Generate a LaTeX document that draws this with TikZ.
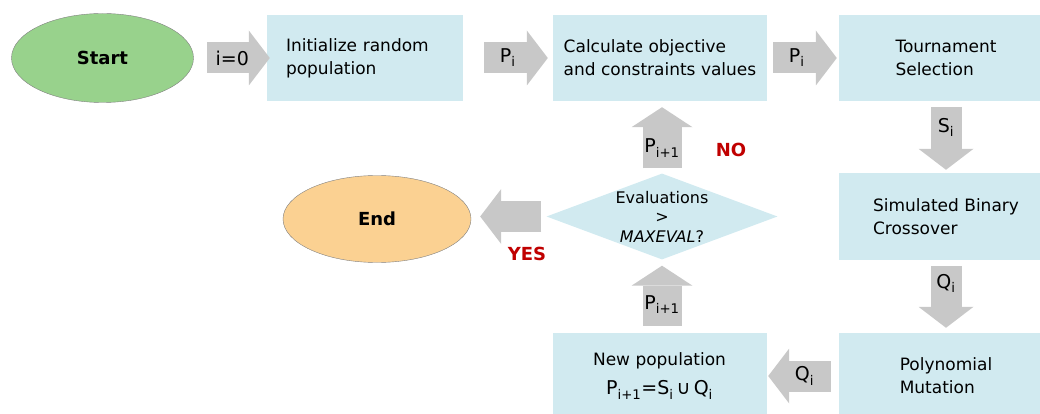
\documentclass[tikz,border=0pt]{standalone}
\usepackage{fontspec}
\setmainfont{DejaVu Sans}
\usetikzlibrary{shapes.geometric, arrows.meta}
\definecolor{boxblue}{HTML}{D1EAF0}
\definecolor{flowgray}{HTML}{C8C8C8}
\definecolor{startgreen}{HTML}{98D28C}
\definecolor{endorange}{HTML}{FBD192}
\definecolor{answerred}{HTML}{C00000}

\begin{document}
\begin{tikzpicture}[x=1pt, y=-1pt,
        stepbox/.style={fill=boxblue, minimum width=214pt, minimum height=86pt, inner sep=0pt, align=left, font=\fontsize{17}{23}\selectfont},
        terminal/.style={ellipse, draw=black!50, inner sep=0pt, font=\fontsize{18}{22}\selectfont\bfseries},
        flow/.style={line width=31pt, draw=flowgray, -{Triangle[length=21pt, width=55pt, line width=0pt]}},
        wideflow/.style={line width=39pt, draw=flowgray, -{Triangle[length=20pt, width=61pt, line width=0pt]}},
        flowlabel/.style={inner sep=0pt, font=\fontsize{19}{22}\selectfont},
        answer/.style={text=answerred, font=\fontsize{18}{22}\selectfont\bfseries}]
        \clip (0, 0) rectangle (1040, 414);

        \node[terminal, fill=startgreen, minimum width=182pt, minimum height=89pt] (start) at (102.5, 58) {Start};
        \node[stepbox, minimum width=196pt, text width=158pt] (init) at (365, 58) {Initialize random\\population};
        \node[stepbox] (evaluate) at (660, 58) {Calculate objective\\and constraints values};
        \node[stepbox] (select) at (946, 58) {Tournament\\Selection};
        \node[stepbox, minimum height=87pt] (cross) at (946, 216.5) {Simulated Binary\\Crossover};
        \node[stepbox] (mutate) at (946, 376) {Polynomial\\Mutation};
        \node[stepbox, align=center] (newpop) at (659.5, 376) {New population\\[6pt]{\fontsize{19}{22}\selectfont P\textsubscript{i+1}=S\textsubscript{i}\,∪\,Q\textsubscript{i}}};
        \node[diamond, fill=boxblue, aspect=2.7, inner sep=-2pt, minimum width=231pt, minimum height=86pt, align=center, font=\fontsize{16}{19.5}\selectfont] (check) at (662, 216.5) {Evaluations\\>\\\textit{MAXEVAL}?};
        \node[terminal, fill=endorange, minimum width=188pt, minimum height=87pt] (end) at (377, 219) {End};

        \draw[flow] ([xshift=13.5pt]start.east) -- node[flowlabel, pos=.4] {i=0} ([xshift=3pt]init.west);
        \draw[flow] ([xshift=21pt]init.east) -- node[flowlabel, pos=.37] {P\textsubscript{i}} ([xshift=-5pt]evaluate.west);
        \draw[flow] ([xshift=6pt]evaluate.east) -- node[flowlabel, pos=.37] {P\textsubscript{i}} ([xshift=-2pt]select.west);
        \draw[flow] ([yshift=-6pt]select.south) -- node[flowlabel, pos=.32] {S\textsubscript{i}} ([yshift=3pt]cross.north);
        \draw[flow] ([yshift=-6pt]cross.south) -- node[flowlabel, pos=.28] {Q\textsubscript{i}} ([yshift=5pt]cross.south |- mutate.north);
        \draw[flow] ([xshift=-8pt]mutate.west) -- node[flowlabel, pos=.42] {Q\textsubscript{i}} ([xshift=1.5pt]newpop.east);
        \draw[wideflow] ([yshift=7pt]check.south |- newpop.north) -- node[flowlabel, pos=.35] {P\textsubscript{i+1}} ([yshift=-6pt]check.south);
        \draw[wideflow] ([yshift=5pt]check.north) -- node[flowlabel, pos=.33] {P\textsubscript{i+1}} ([yshift=-6pt]check.north |- evaluate.south);
        \draw[flow] ([xshift=-5pt]check.west) -- ([xshift=9pt]end.east |- check.west);

        \node[answer] (no) at (731, 150) {NO};
        \node[answer] (yes) at (527, 254) {YES};
    \end{tikzpicture}
\end{document}
